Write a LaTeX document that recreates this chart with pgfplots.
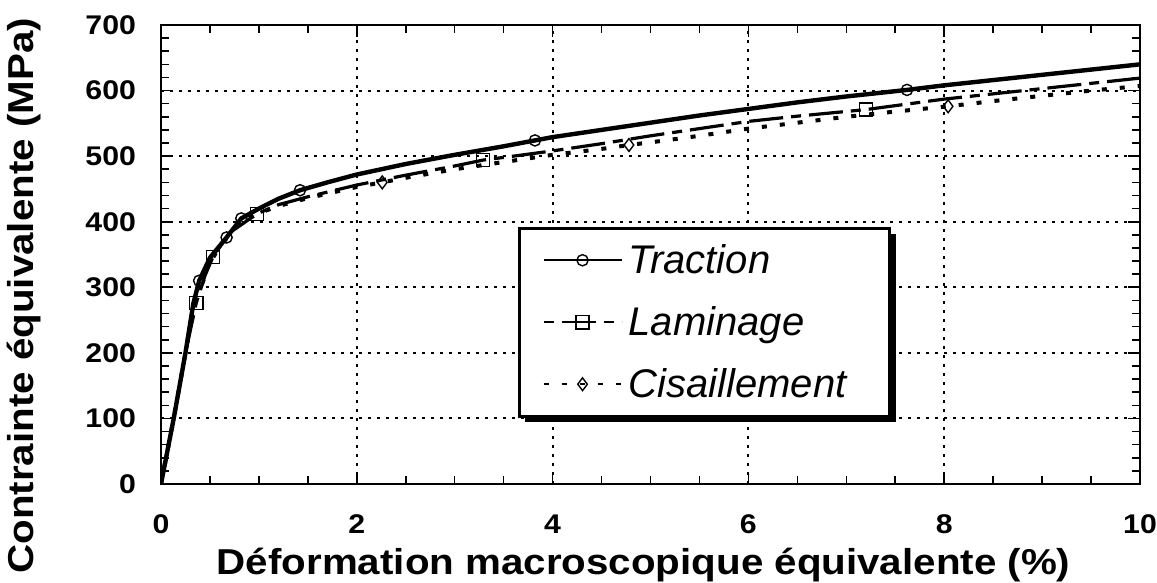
\documentclass[border=0pt]{standalone}
\usepackage{fontspec}
\setmainfont{Liberation Sans}
\newfontfamily\stretchfont{Liberation Sans}[FakeStretch=1.12]
\usepackage{pgfplots}
\pgfplotsset{compat=1.18}
\usetikzlibrary{shadows}
\makeatletter
\tikzset{nopre/.code={\def\tikz@preactions{}}}
\makeatother

\begin{document}
\begin{tikzpicture}
\begin{axis}[
  scale only axis,
  width=489.5pt, height=229.5pt,
  xmin=0, xmax=10, ymin=0, ymax=700,
  xtick={0,2,...,10}, ytick={0,100,...,700},
  minor x tick num=3, minor y tick num=4,
  tick align=inside,
  major tick length=6pt, minor tick length=3.8pt,
  every tick/.style={black, line width=0.8pt},
  axis line style={line width=1.2pt},
  grid=major,
  major grid style={black, line width=1pt, dash pattern=on 1.3pt off 3.2pt},
  /pgf/number format/assume math mode=true,
  tick label style={font=\stretchfont\bfseries\fontsize{13.5}{16}\selectfont},
  xticklabel style={yshift=-12pt},
  yticklabel style={xshift=-9pt},
  xlabel={Déformation macroscopique équivalente (\%)},
  ylabel={Contrainte équivalente (MPa)},
  label style={font=\stretchfont\bfseries\fontsize{18}{22}\selectfont},
  xlabel style={at={(axis description cs:0.493,-0.176)}, anchor=center},
  ylabel style={at={(axis description cs:-0.14,0.41)}, anchor=center},
  legend cell align=left,
  legend image code/.code={\draw[nopre, #1, mark indices={2}, line width=1.2pt] plot coordinates {(0pt,0pt) (19.5pt,0pt) (39pt,0pt)};},
  legend style={at={(axis description cs:0.3647,0.56)}, anchor=north west,
    draw=black, line width=1.3pt, fill=white,
    drop shadow={shadow xshift=3pt, shadow yshift=-3pt, fill=black, opacity=1},
    font=\fontsize{20}{23}\selectfont\itshape,
    inner xsep=11.5pt, inner ysep=5pt, row sep=9pt,
    nodes={inner sep=3pt}},
]
\coordinate (ll) at (rel axis cs:0,0);
\coordinate (ur) at (rel axis cs:1,1);
\addplot[black, line width=2.2pt, mark=o, mark size=2.8pt,
  mark options={solid, line width=0.7pt},
  mark indices={5,7,8,11,17,25}] coordinates {
(0,0) (0.13,100) (0.25,200) (0.33,275) (0.39,310) (0.5,345) (0.67,376)
(0.82,405) (1.0,420) (1.2,435) (1.42,448) (1.7,460) (2.0,472) (2.5,488)
(3.0,502) (3.5,515) (3.82,524) (4.0,529) (4.5,540) (5.0,551) (5.5,562)
(6.0,572) (6.5,582) (7.0,591) (7.62,601) (8.0,608) (8.5,616) (9.0,624)
(9.5,632) (10,640)
};
\addlegendentry{\makebox[116pt][l]{Traction}}
\addplot[black, line width=1.6pt, dash pattern=on 5pt off 4pt on 17pt off 4pt,
  mark=square, mark size=3.3pt,
  mark options={solid, line width=0.7pt},
  mark indices={4,6,8,14,22}] coordinates {
(0,0) (0.13,100) (0.25,200) (0.36,276) (0.45,318) (0.53,346) (0.7,383)
(0.98,412) (1.2,426) (1.5,438) (2.0,456) (2.5,471) (3.0,485) (3.29,494)
(3.6,500) (4.0,508) (4.5,519) (5.0,531) (5.5,542) (6.0,553) (6.5,561)
(7.2,571) (7.5,577) (8.0,587) (8.5,595) (9.0,603) (9.5,611) (10,619)
};
\addlegendentry{Laminage}
\addplot[black, line width=2pt, dash pattern=on 2.5pt off 6.5pt,
  mark=diamond, mark size=3.2pt,
  mark options={solid, line width=0.7pt},
  mark indices={12,18,25}] coordinates {
(0,0) (0.13,100) (0.25,200) (0.35,285) (0.45,325) (0.6,362) (0.8,398)
(1.0,413) (1.2,424) (1.5,436) (2.0,453) (2.26,460) (2.5,467) (3.0,480)
(3.5,491) (4.0,502) (4.5,511) (4.78,517) (5.0,521) (5.5,531) (6.0,542)
(6.5,551) (7.0,560) (7.5,568) (8.04,576) (8.5,584) (9.0,592) (9.5,600)
(10,607)
};
\addlegendentry{Cisaillement}
\end{axis}
\pgfresetboundingbox
\path ([xshift=-80.5pt,yshift=-49.5pt]ll) rectangle ([xshift=8.5pt,yshift=12.5pt]ur);
\end{tikzpicture}
\end{document}
